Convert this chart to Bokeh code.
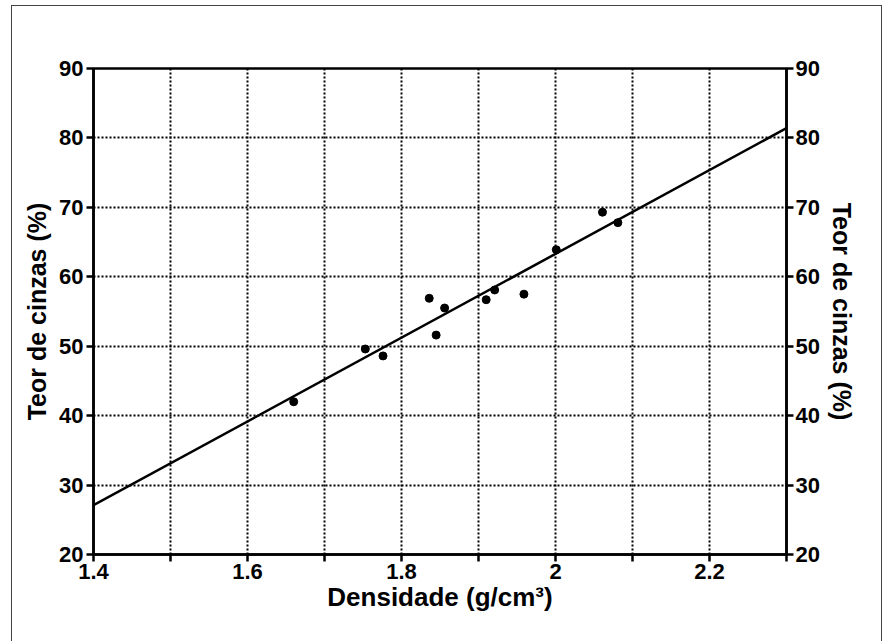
from bokeh.plotting import figure
from bokeh.models import Range1d, LinearAxis, FixedTicker
from bokeh.embed import file_html
from bokeh.resources import INLINE

# Data
densidade = [1.660, 1.753, 1.776, 1.836, 1.845, 1.856, 1.910, 1.921, 1.959, 2.001, 2.061, 2.081]
teor_cinzas = [42.0, 49.6, 48.6, 56.9, 51.6, 55.5, 56.7, 58.1, 57.5, 63.9, 69.3, 67.8]
fit_x = [1.4, 2.3]
fit_y = [27.1, 81.4]

x_ticks = [1.4, 1.5, 1.6, 1.7, 1.8, 1.9, 2.0, 2.1, 2.2, 2.3]
x_tick_labels = ["1.4", "", "1.6", "", "1.8", "", "2", "", "2.2", ""]
y_ticks = [20, 30, 40, 50, 60, 70, 80, 90]

FONT = "Liberation Sans"

p = figure(width=871, height=636, output_backend="svg", toolbar_location=None,
           x_range=Range1d(1.4, 2.3), y_range=Range1d(20, 90),
           min_border_left=81, min_border_right=97, min_border_top=62, min_border_bottom=88,
           x_axis_label="Densidade (g/cm³)", y_axis_label="Teor de cinzas (%)",
           margin=(5, 0, 0, 11))
p.styles = {"border-left": "1px solid #444444",
            "border-top": "1px solid #444444",
            "border-right": "1px solid #444444"}

p.background_fill_color = "white"
p.border_fill_color = "white"
p.outline_line_color = "black"
p.outline_line_width = 2.5
p.outline_line_alpha = 1.0

right_axis = LinearAxis(axis_label="Teor de cinzas (%)")
p.add_layout(right_axis, "right")

for ax in p.axis:
    ax.axis_line_color = "black"
    ax.axis_line_width = 2.5
    ax.major_tick_line_color = "black"
    ax.major_tick_line_width = 2.5
    ax.major_tick_in = 0
    ax.major_tick_out = 7
    ax.minor_tick_line_color = None
    ax.major_label_text_font = FONT
    ax.major_label_text_font_style = "bold"
    ax.major_label_text_font_size = "22px"
    ax.major_label_text_color = "black"
    ax.axis_label_text_font = FONT
    ax.axis_label_text_font_style = "bold"
    ax.axis_label_text_font_size = "25px"
    ax.axis_label_text_color = "black"

for ax in p.xaxis:
    ax.ticker = FixedTicker(ticks=x_ticks)
    ax.major_label_overrides = {t: l for t, l in zip(x_ticks, x_tick_labels)}
    ax.major_label_standoff = 2
    ax.axis_label_standoff = 0
    ax.axis_label_text_font_size = "26px"
for ax in p.yaxis:
    ax.ticker = FixedTicker(ticks=y_ticks)
    ax.major_label_standoff = 3
    ax.axis_label_standoff = 5
right_axis.major_label_standoff = 2

p.xgrid.ticker = FixedTicker(ticks=x_ticks)
p.ygrid.ticker = FixedTicker(ticks=y_ticks)
for g in (p.xgrid, p.ygrid):
    g.grid_line_color = "black"
    g.grid_line_dash = "2 2"
    g.grid_line_width = 2

p.line(fit_x, fit_y, line_color="black", line_width=2.5)
p.scatter(densidade, teor_cinzas, size=8, color="black")

open("out.html", "w").write(file_html(p, INLINE))
